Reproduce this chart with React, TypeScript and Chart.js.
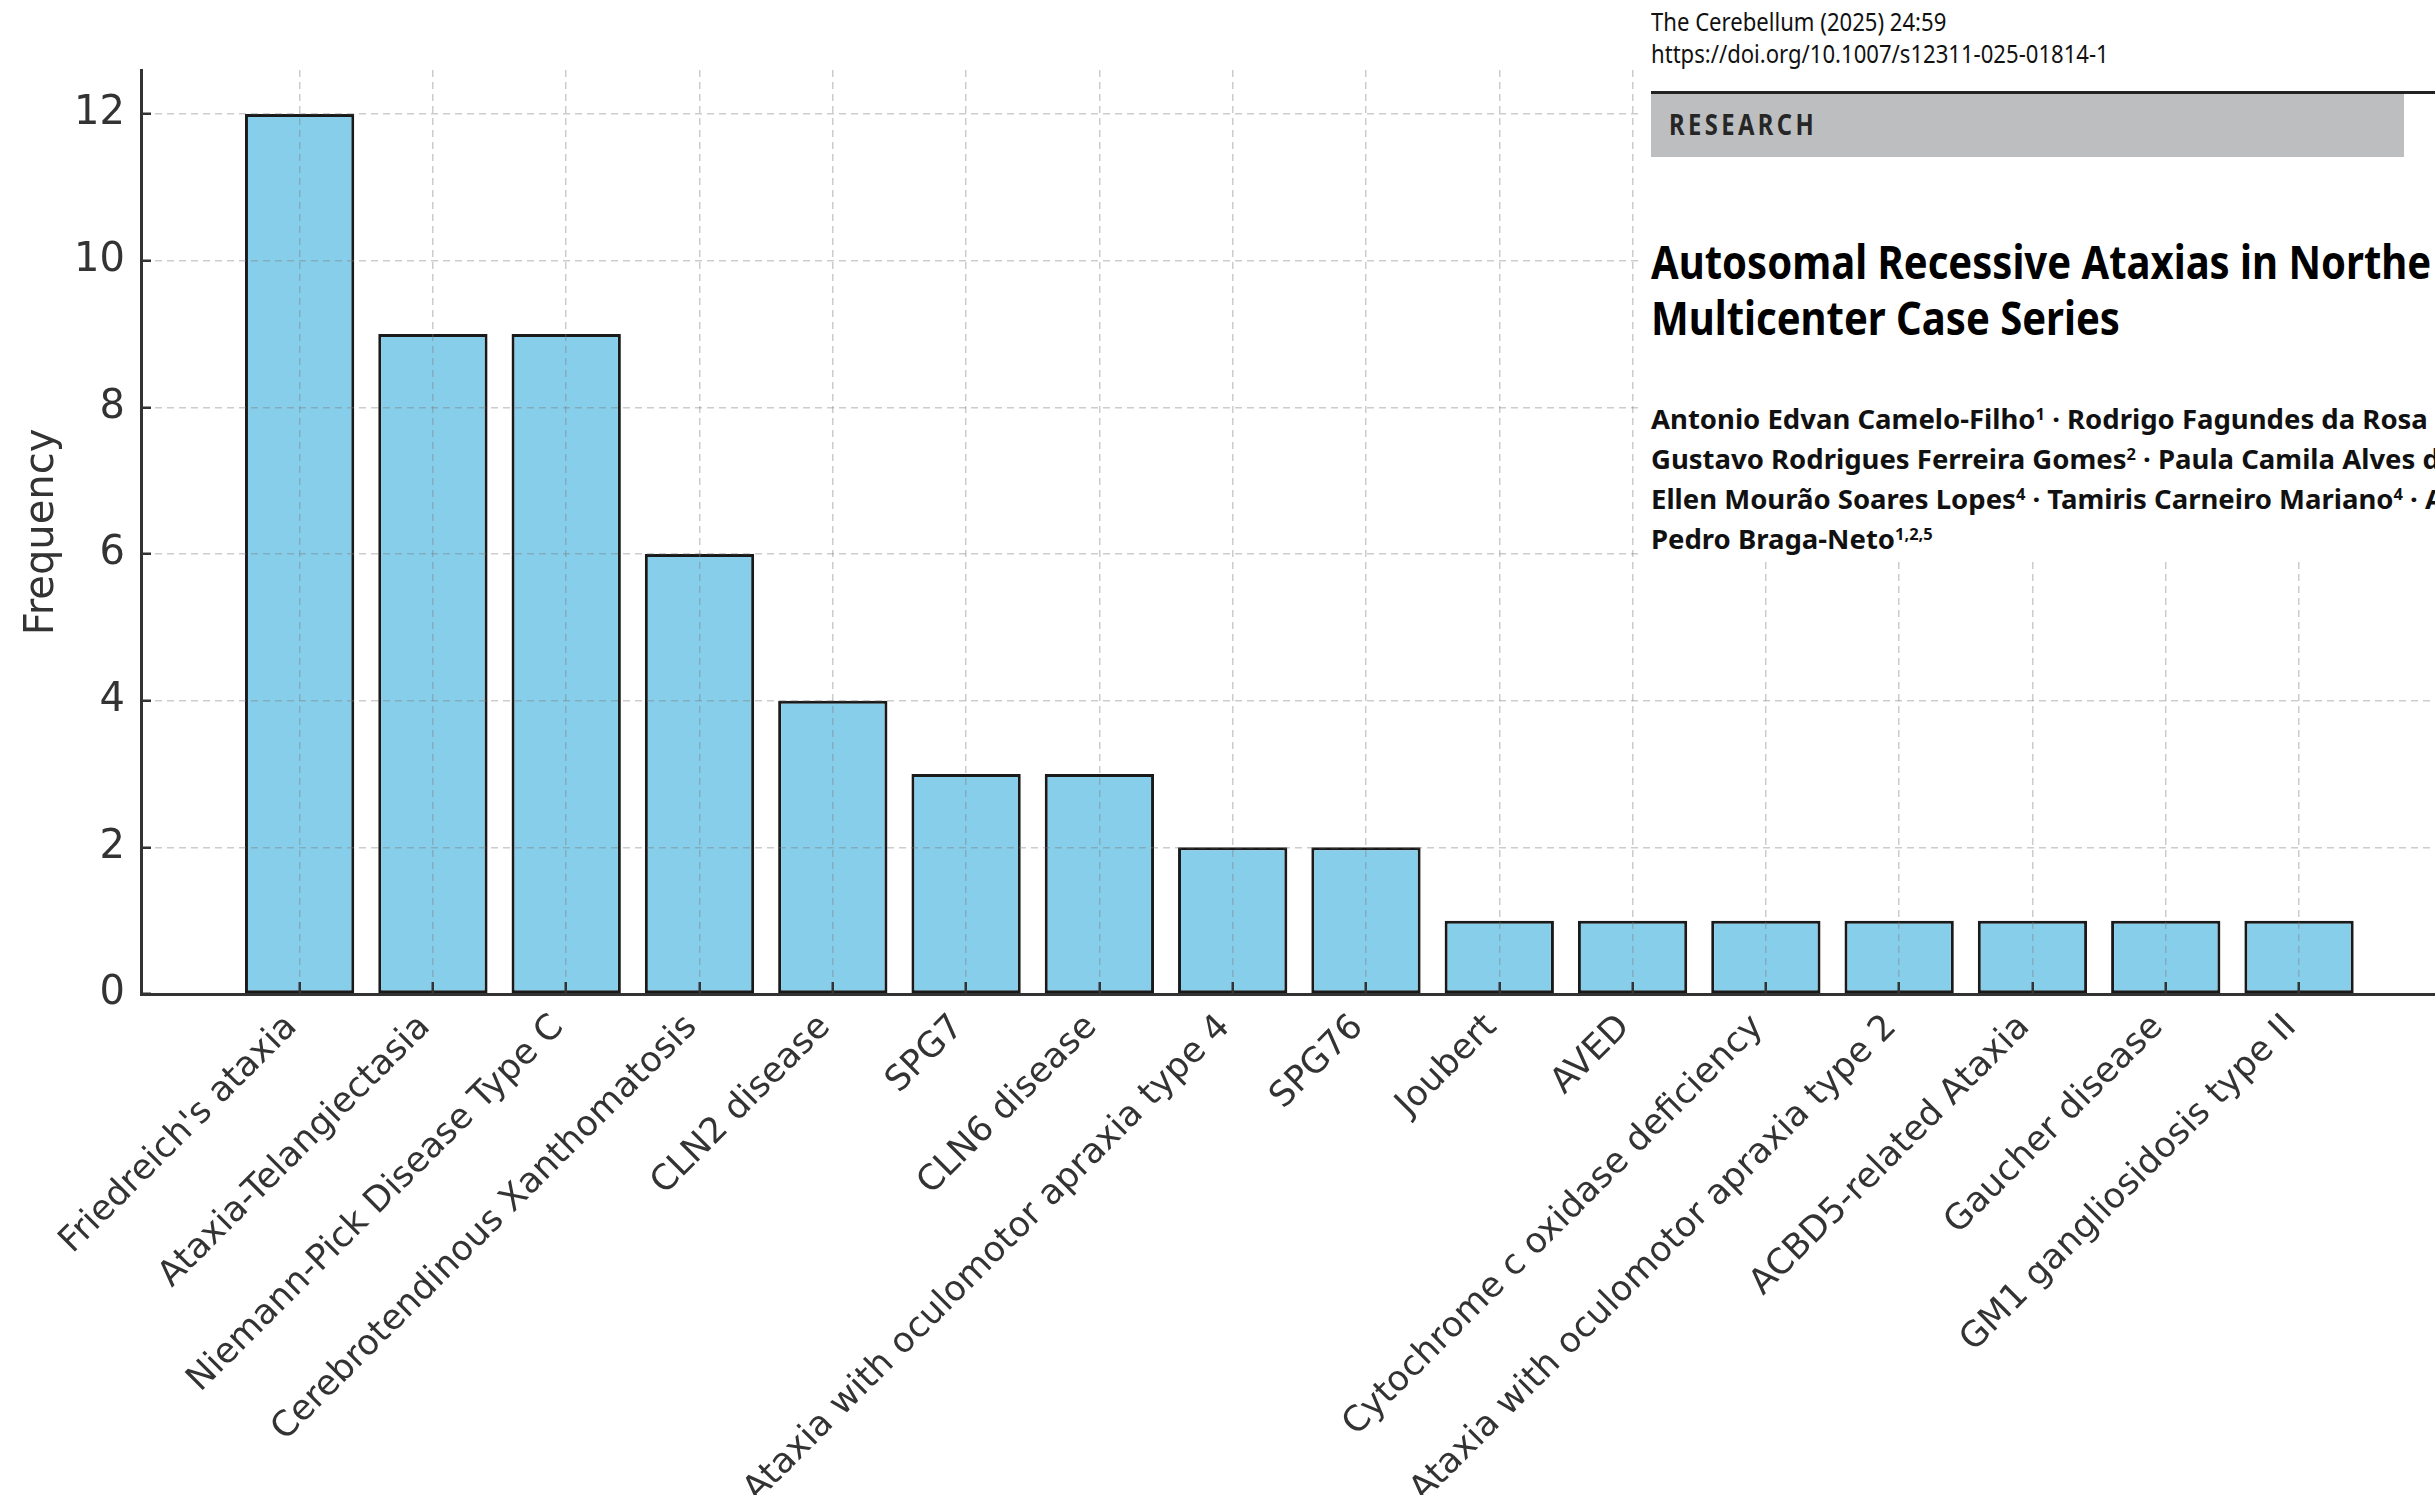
import React, { useEffect, useRef } from "react";
import { Chart, registerables } from "chart.js";

Chart.register(...registerables);

const categories = [
  "Friedreich's ataxia",
  "Ataxia-Telangiectasia",
  "Niemann-Pick Disease Type C",
  "Cerebrotendinous Xanthomatosis",
  "CLN2 disease",
  "SPG7",
  "CLN6 disease",
  "Ataxia with oculomotor apraxia type 4",
  "SPG76",
  "Joubert",
  "AVED",
  "Cytochrome c oxidase deficiency",
  "Ataxia with oculomotor apraxia type 2",
  "ACBD5-related Ataxia",
  "Gaucher disease",
  "GM1 gangliosidosis type II",
];

const frequencies = [12, 9, 9, 6, 4, 3, 3, 2, 2, 1, 1, 1, 1, 1, 1, 1];

const yTickValues = [0, 2, 4, 6, 8, 10, 12];

const GRID = "rgba(120,120,120,0.38)";
const AXIS = "#333333";

const line = (top: number, size: number, weight: number, scale: number, extra: React.CSSProperties = {}): React.CSSProperties => ({
  position: "absolute",
  left: 11,
  top,
  fontFamily: "'Noto Sans', 'Open Sans', sans-serif",
  fontSize: size,
  fontWeight: weight,
  lineHeight: 1,
  whiteSpace: "nowrap",
  color: "#111",
  transform: `scaleX(${scale})`,
  transformOrigin: "left top",
  ...extra,
});

const sup: React.CSSProperties = { fontSize: "0.6em", verticalAlign: "0.55em", lineHeight: 0 };

export default function App() {
  const ref = useRef<HTMLCanvasElement>(null);

  useEffect(() => {
    if (!ref.current) return;
    const chart = new Chart(ref.current, {
      type: "bar",
      data: {
        datasets: [
          {
            data: frequencies.map((v, i) => ({ x: i, y: v })),
            backgroundColor: "#87CEEB",
            borderColor: "#1a1a1a",
            borderWidth: 3,
            borderSkipped: false,
            barPercentage: 0.82,
            categoryPercentage: 1,
          },
        ],
      },
      options: {
        animation: false,
        responsive: true,
        maintainAspectRatio: false,
        layout: { padding: { top: 70, left: 0, right: 0, bottom: 0 } },
        plugins: { legend: { display: false }, tooltip: { enabled: false } },
        scales: {
          x: {
            type: "linear",
            offset: false,
            min: -1.19,
            max: 16.02,
            afterBuildTicks: (s: any) => {
              s.ticks = categories.map((_, i) => ({ value: i }));
            },
            afterFit: (s: any) => {
              s.height = 501;
            },
            ticks: {
              autoSkip: false,
              minRotation: 45,
              maxRotation: 45,
              padding: 17,
              color: AXIS,
              font: { family: "'DejaVu Sans'", size: 35 },
              callback: (_v: any, i: number) => (categories[i] ? categories[i] + " " : ""),
            },
            grid: {
              offset: false,
              color: GRID,
              lineWidth: 1.5,
              tickLength: -12,
              tickColor: AXIS,
              tickWidth: 2.5,
              z: 1,
            },
            border: { display: true, color: AXIS, width: 3, dash: [7, 5], z: 2 },
          },
          y: {
            min: 0,
            max: 12.6,
            afterBuildTicks: (s: any) => {
              s.ticks = yTickValues.map((v) => ({ value: v }));
            },
            afterFit: (s: any) => {
              s.width = 141;
            },
            ticks: {
              padding: 26,
              color: AXIS,
              font: { family: "'DejaVu Sans'", size: 40 },
              callback: (v: any) => String(v),
            },
            title: {
              display: true,
              text: "Frequency",
              color: AXIS,
              font: { family: "'DejaVu Sans'", size: 40 },
              padding: { top: 19, bottom: 0 },
            },
            grid: {
              color: GRID,
              lineWidth: 1.5,
              tickLength: -10,
              tickColor: AXIS,
              tickWidth: 2.5,
              z: 1,
            },
            border: { display: true, color: AXIS, width: 3, dash: [7, 5], z: 2 },
          },
        },
      } as any,
    });
    return () => chart.destroy();
  }, []);

  return (
    <div style={{ position: "absolute", left: 0, top: 0, width: 2435, height: 1495, overflow: "hidden", background: "#fff" }}>
      <canvas ref={ref} style={{ display: "block" }} />
      <div
        style={{
          position: "absolute",
          left: 1640,
          top: 0,
          width: 795,
          height: 562,
          background: "#fff",
          overflow: "hidden",
        }}
      >
        <div style={line(8, 26, 400, 0.85)}>The Cerebellum (2025) 24:59</div>
        <div style={line(40, 26, 400, 0.85)}>https://doi.org/10.1007/s12311-025-01814-1</div>
        <div style={{ position: "absolute", left: 11, top: 91, right: 0, height: 3, background: "#222" }} />
        <div style={{ position: "absolute", left: 11, top: 94, width: 753, height: 63, background: "#bdbec0" }} />
        <div style={line(110, 28, 700, 0.85, { left: 29, letterSpacing: 4, color: "#262626" })}>RESEARCH</div>
        <div style={line(238, 46, 700, 0.87, { color: "#000" })}>Autosomal Recessive Ataxias in Northe</div>
        <div style={line(294, 46, 700, 0.87, { color: "#000" })}>Multicenter Case Series</div>
        <div style={line(405, 27.5, 700, 1.0)}>
          Antonio Edvan Camelo-Filho<span style={sup}>1</span> · Rodrigo Fagundes da Rosa
        </div>
        <div style={line(445, 27.5, 700, 1.0)}>
          Gustavo Rodrigues Ferreira Gomes<span style={sup}>2</span> · Paula Camila Alves d
        </div>
        <div style={line(485, 27.5, 700, 1.0)}>
          Ellen Mourão Soares Lopes<span style={sup}>4</span> · Tamiris Carneiro Mariano<span style={sup}>4</span> · A
        </div>
        <div style={line(525, 27.5, 700, 1.0)}>
          Pedro Braga-Neto<span style={sup}>1,2,5</span>
        </div>
      </div>
    </div>
  );
}
